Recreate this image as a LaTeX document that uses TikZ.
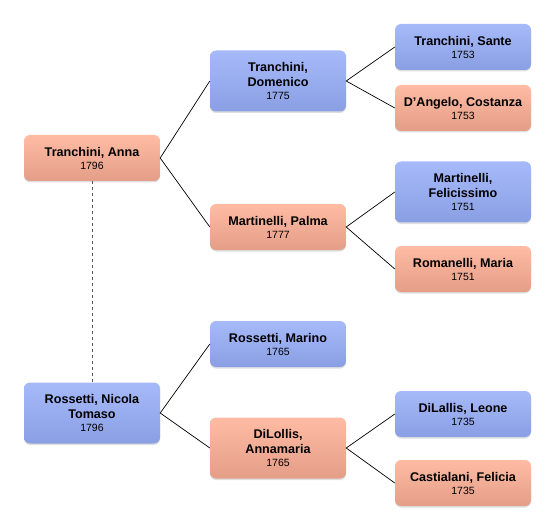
\documentclass[tikz,border=0pt]{standalone}
\usepackage{fontspec}
\setmainfont{Liberation Sans}
\usetikzlibrary{shadows}
\definecolor{btop}{HTML}{A6BAFA}
\definecolor{bbot}{HTML}{8A9FE3}
\definecolor{ptop}{HTML}{FFBBA3}
\definecolor{pbot}{HTML}{E49E88}
\tikzset{
  person/.style={rounded corners=6pt, minimum width=136pt, align=center,
    inner sep=2pt, font=\fontsize{12.6}{15}\selectfont\bfseries,
    drop shadow={opacity=0.25, shadow xshift=0pt, shadow yshift=-1.5pt}},
  male/.style={person, top color=btop, bottom color=bbot},
  female/.style={person, top color=ptop, bottom color=pbot},
  short/.style={minimum height=46pt},
  tall/.style={minimum height=61pt},
  link/.style={draw=black, line width=0.7pt},
  spouse/.style={draw=gray!70!black, dash pattern=on 3pt off 3pt, line width=0.9pt}
}
\newcommand{\yr}[1]{\\[-2pt]{\fontsize{10.5}{12}\selectfont\mdseries #1}}
\begin{document}
\begin{tikzpicture}[x=1pt,y=-1pt]
\useasboundingbox (0,0) rectangle (556,529);
\node[female,short] (anna) at (92,158) {Tranchini, Anna\yr{1796}};
\node[male,tall] (nicola) at (92,413) {Rossetti, Nicola\\Tomaso\yr{1796}};
\node[male,tall] (domenico) at (278,81) {Tranchini,\\Domenico\yr{1775}};
\node[female,short] (palma) at (278,227) {Martinelli, Palma\yr{1777}};
\node[male,short] (marino) at (278,344) {Rossetti, Marino\yr{1765}};
\node[female,tall] (annamaria) at (278,448) {DiLollis,\\Annamaria\yr{1765}};
\node[male,short] (sante) at (463,47) {Tranchini, Sante\yr{1753}};
\node[female,short] (costanza) at (463,108) {D'Angelo, Costanza\yr{1753}};
\node[male,tall] (felicissimo) at (463,192) {Martinelli,\\Felicissimo\yr{1751}};
\node[female,short] (maria) at (463,269) {Romanelli, Maria\yr{1751}};
\node[male,short] (leone) at (463,414) {DiLallis, Leone\yr{1735}};
\node[female,short] (felicia) at (463,483) {Castialani, Felicia\yr{1735}};
\draw[spouse] (anna.south) -- (nicola.north);
\draw[link] (domenico.west) -- (anna.east) -- (palma.west);
\draw[link] (marino.west) -- (nicola.east) -- (annamaria.west);
\draw[link] (sante.west) -- (domenico.east) -- (costanza.west);
\draw[link] (felicissimo.west) -- (palma.east) -- (maria.west);
\draw[link] (leone.west) -- (annamaria.east) -- (felicia.west);
\end{tikzpicture}
\end{document}
